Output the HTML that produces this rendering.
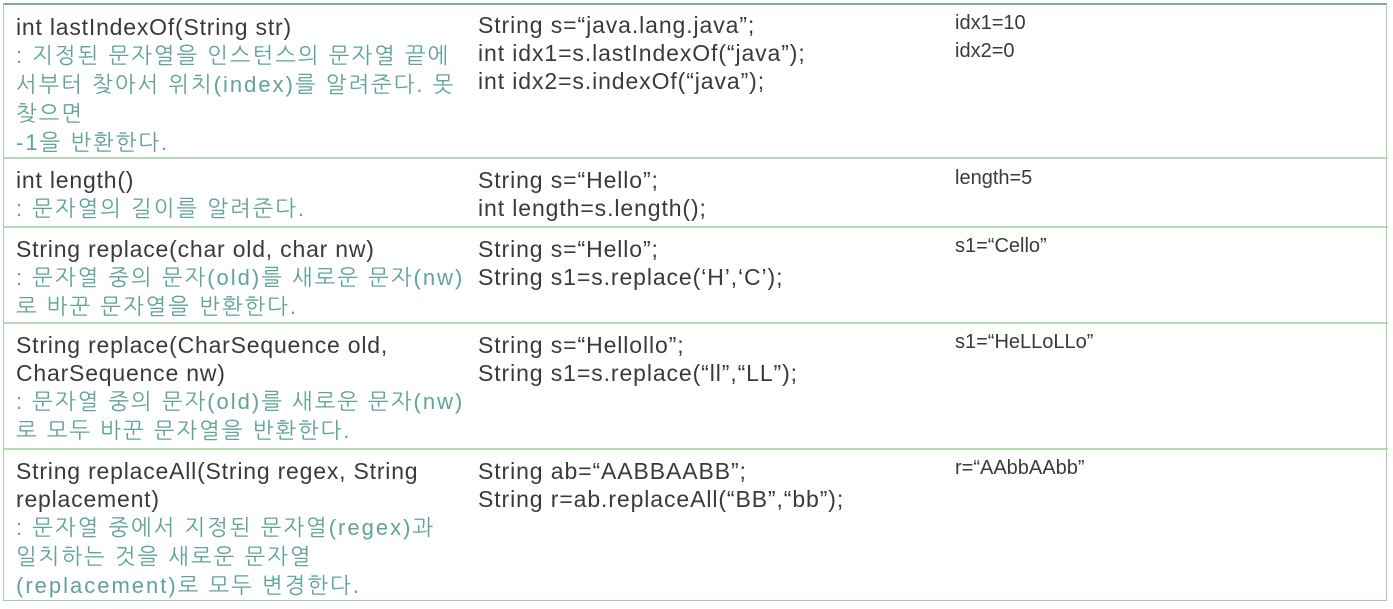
<!DOCTYPE html>
<html><head><meta charset="utf-8"><style>
body{margin:0;width:1393px;height:609px;background:#fff;position:relative;overflow:hidden;font-family:"Liberation Sans","NanumGothic","Noto Sans CJK KR",sans-serif;font-size:20px;color:#3a3a3a}
.box{position:absolute;left:3px;top:3px;width:1384px;height:598px;border:1.5px solid #a9cfa6;border-top:2px solid #7fb08c;box-sizing:border-box}
.h{position:absolute;left:3px;width:1385px;height:0;border-top:2px solid #b9d8b4}
.t{position:absolute;line-height:28px;white-space:nowrap}
.c1{font-size:23px;letter-spacing:0.8px}
.c2{font-size:23px;letter-spacing:0.9px}
.g{color:#5fa39a;font-size:22px;letter-spacing:2px}
.c3{font-size:20px}
</style></head><body>
<div class="box"></div>
<div class="h" style="top:157px"></div>
<div class="h" style="top:226px"></div>
<div class="h" style="top:322px"></div>
<div class="h" style="top:448px"></div>

<div class="t c1" style="left:16px;top:13px">int lastIndexOf(String str)<br><span class="g">: 지정된 문자열을 인스턴스의 문자열 끝에<br>서부터 찾아서 위치(index)를 알려준다. 못<br>찾으면<br>-1을 반환한다.</span></div>
<div class="t c2" style="left:478px;top:11px">String s=“java.lang.java”;<br>int idx1=s.lastIndexOf(“java”);<br>int idx2=s.indexOf(“java”);</div>
<div class="t c3" style="left:955px;top:9px">idx1=10<br>idx2=0</div>

<div class="t c1" style="left:16px;top:166px">int length()<br><span class="g">: 문자열의 길이를 알려준다.</span></div>
<div class="t c2" style="left:478px;top:166px">String s=“Hello”;<br>int length=s.length();</div>
<div class="t c3" style="left:955px;top:164px">length=5</div>

<div class="t c1" style="left:16px;top:235px">String replace(char old, char nw)<br><span class="g">: 문자열 중의 문자(old)를 새로운 문자(nw)<br>로 바꾼 문자열을 반환한다.</span></div>
<div class="t c2" style="left:478px;top:235px">String s=“Hello”;<br>String s1=s.replace(‘H’,‘C’);</div>
<div class="t c3" style="left:955px;top:232px">s1=“Cello”</div>

<div class="t c1" style="left:16px;top:331px">String replace(CharSequence old,<br>CharSequence nw)<br><span class="g">: 문자열 중의 문자(old)를 새로운 문자(nw)<br>로 모두 바꾼 문자열을 반환한다.</span></div>
<div class="t c2" style="left:478px;top:331px">String s=“Hellollo”;<br>String s1=s.replace(“ll”,“LL”);</div>
<div class="t c3" style="left:955px;top:328px">s1=“HeLLoLLo”</div>

<div class="t c1" style="left:16px;top:457px">String replaceAll(String regex, String<br>replacement)<br><span class="g">: 문자열 중에서 지정된 문자열(regex)과<br>일치하는 것을 새로운 문자열<br>(replacement)로 모두 변경한다.</span></div>
<div class="t c2" style="left:478px;top:457px">String ab=“AABBAABB”;<br>String r=ab.replaceAll(“BB”,“bb”);</div>
<div class="t c3" style="left:955px;top:454px">r=“AAbbAAbb”</div>
</body></html>
